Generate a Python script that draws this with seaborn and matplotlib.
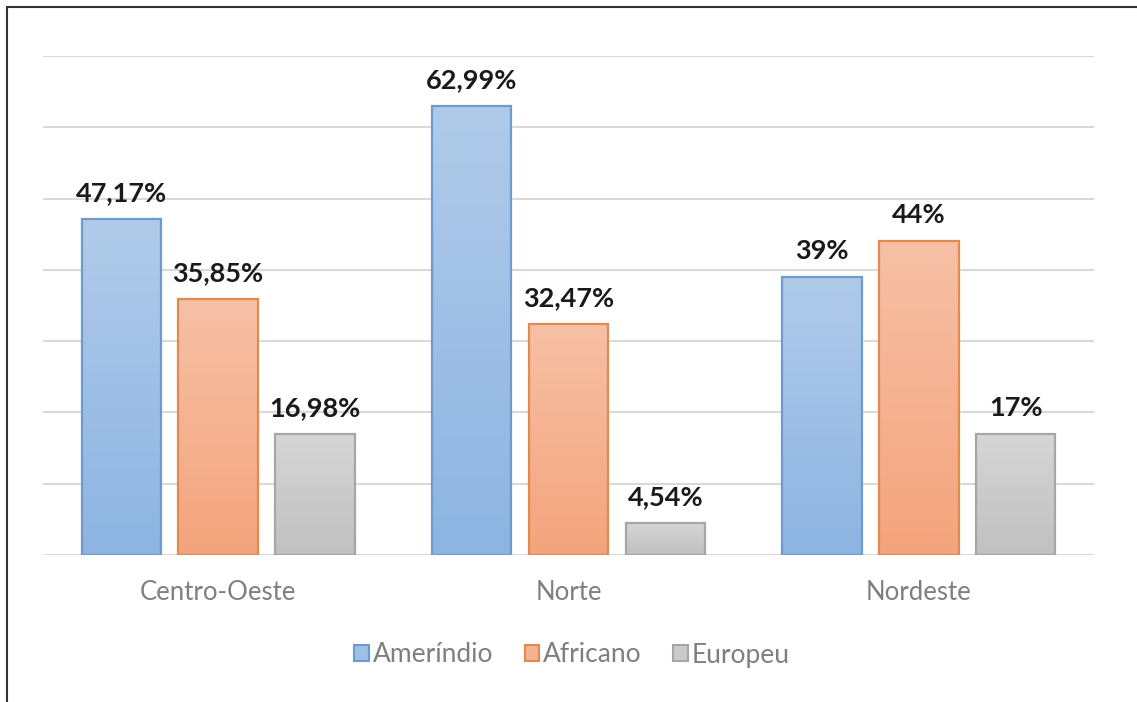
import numpy as np
import pandas as pd
import matplotlib
matplotlib.use("Agg")
import matplotlib.pyplot as plt
from matplotlib.patches import Rectangle
from matplotlib.lines import Line2D
from matplotlib.colors import LinearSegmentedColormap
import seaborn as sns

regions = ["Centro-Oeste", "Norte", "Nordeste"]
origins = ["Ameríndio", "Africano", "Europeu"]
amerindio = [47.17, 62.99, 39.0]
africano = [35.85, 32.47, 44.0]
europeu = [16.98, 4.54, 17.0]

top_colors = ["#b0cbea", "#f7c0a6", "#d6d6d6"]
bottom_colors = ["#8db4e2", "#f4a47c", "#c0c0c0"]
mid_colors = ["#9fc0e6", "#f5b291", "#cbcbcb"]
edge_colors = ["#6d9bcc", "#e08a4f", "#a6a6a6"]

df = pd.DataFrame({
    "Região": regions * 3,
    "Origem": [o for o in origins for _ in regions],
    "Valor": amerindio + africano + europeu,
})

sns.set_theme(style="white")
plt.rcParams["font.family"] = ["Lato", "DejaVu Sans"]

fig = plt.figure(figsize=(11.37, 7.02), dpi=100)
ax = fig.add_axes([43 / 1137, 1 - 555 / 702, (1094 - 43) / 1137, (555 - 56) / 702])

sns.barplot(data=df, x="Região", y="Valor", hue="Origem", order=regions,
            hue_order=origins, palette=mid_colors, width=0.83, gap=0.18,
            ax=ax, legend=False, zorder=2)

ax.set_ylim(0, 70)
ax.set_xlim(-0.5, 2.5)
ax.set_yticks(np.arange(0, 71, 10))
ax.yaxis.grid(True, color="#d9d9d9", linewidth=1.5, zorder=0)
ax.set_axisbelow(True)
ax.tick_params(axis="y", left=False, labelleft=False)
ax.tick_params(axis="x", bottom=False, labelsize=18.5, labelcolor="#7f7f7f", pad=12)
ax.set_xlabel("")
ax.set_ylabel("")
for s in ax.spines.values():
    s.set_visible(False)

grad = np.linspace(0, 1, 256).reshape(-1, 1)
for i, cont in enumerate(ax.containers):
    cmap = LinearSegmentedColormap.from_list(f"g{i}", [top_colors[i], bottom_colors[i]])
    for bar in cont:
        x0, y0 = bar.get_x(), bar.get_y()
        w, h = bar.get_width(), bar.get_height()
        img = ax.imshow(grad, cmap=cmap, aspect="auto", extent=(x0, x0 + w, y0, y0 + h),
                        origin="upper", zorder=3, interpolation="bicubic")
        img.set_clip_path(bar)
        ax.add_patch(Rectangle((x0, y0), w, h, facecolor="none",
                               edgecolor=edge_colors[i], linewidth=1.6, zorder=4))
        v = h
        label = (f"{int(round(v))}%" if abs(v - round(v)) < 1e-9
                 else f"{v:.2f}%".replace(".", ","))
        ax.annotate(label, (x0 + w / 2, v), xytext=(0, 10), textcoords="offset points",
                    ha="center", va="bottom", fontsize=19.5, fontweight="bold",
                    color="#1a1a1a", zorder=5)

ax.set_xlim(-0.5, 2.5)
ax.set_ylim(0, 70)

handles = [Rectangle((0, 0), 1, 1, facecolor=mid_colors[i], edgecolor=edge_colors[i],
                     linewidth=1.5) for i in range(3)]
fig.legend(handles, origins, loc="center", bbox_to_anchor=(572 / 1137, 1 - 655 / 702),
           ncol=3, frameon=False, fontsize=19, labelcolor="#7f7f7f",
           handlelength=0.55, handleheight=0.55, handletextpad=0.15, columnspacing=1.2)

fig.add_artist(Line2D([7 / 1137, 7 / 1137], [0, 1 - 7 / 702], transform=fig.transFigure,
                      color="#333333", linewidth=1.5))
fig.add_artist(Line2D([7 / 1137, 1], [1 - 7 / 702, 1 - 7 / 702], transform=fig.transFigure,
                      color="#333333", linewidth=1.5))

fig.savefig("out.png", dpi=100, facecolor="white")
